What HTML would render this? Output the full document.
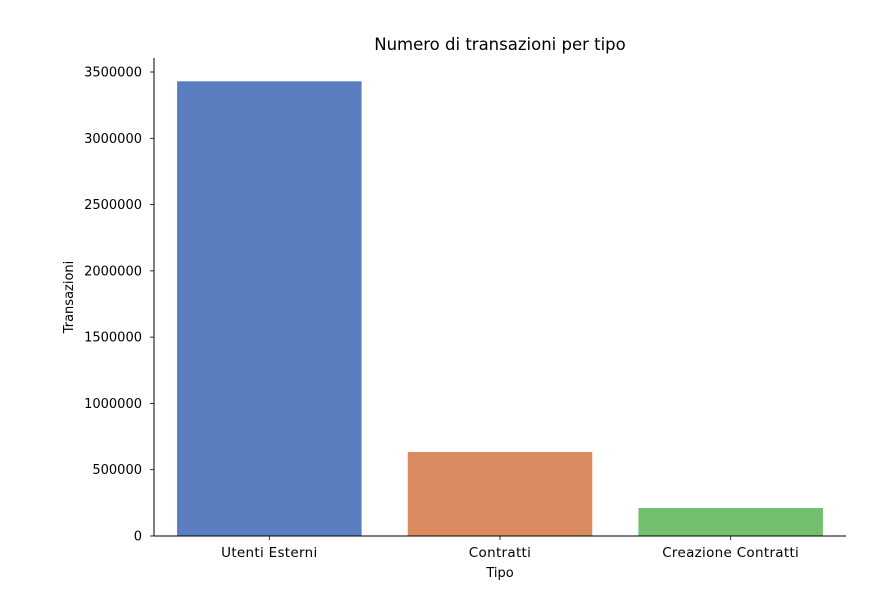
<!DOCTYPE html>
<html><head><meta charset="utf-8"><style>
body{margin:0;background:#fff;}
svg text{font-family:"DejaVu Sans","Liberation Sans",sans-serif;fill:#000;}
</style></head><body>
<svg width="873" height="594" xmlns="http://www.w3.org/2000/svg">
<g id="plot"></g>
</svg>
<script>
const categories=["Utenti Esterni","Contratti","Creazione Contratti"];
const values=[3430000,634000,211000];
const colors=["#5b7ec1","#d98b5f","#72bf6e"];
const yTicks=[0,500000,1000000,1500000,2000000,2500000,3000000,3500000];
const L=154,R=846,B=536,T=58;
const yScale=v=>B-v*(536-72)/3500000;
const band=(R-L)/categories.length;
const xScale=i=>L+band*i;
const g=document.getElementById('plot');
const NS="http://www.w3.org/2000/svg";
function mk(t,a){const e=document.createElementNS(NS,t);for(const k in a)e.setAttribute(k,a[k]);g.appendChild(e);return e;}
values.forEach((v,i)=>{
 const r=mk('rect',{x:xScale(i)+band*0.1,y:yScale(v),width:band*0.8,height:B-yScale(v),fill:colors[i]});
 
 
 mk('line',{x1:xScale(i)+band/2,x2:xScale(i)+band/2,y1:B,y2:B+4,stroke:'#000','stroke-width':0.8});
 const t=mk('text',{x:xScale(i)+band/2,y:B+21,'font-size':13.5,'letter-spacing':'0.3','text-anchor':'middle'});t.textContent=categories[i];
 
 
});
yTicks.forEach(v=>{
 const y=yScale(v);
 mk('line',{x1:L-4,x2:L,y1:y,y2:y,stroke:'#000','stroke-width':0.8});
 const t=mk('text',{x:L-12,y:y+4.5,'font-size':13,'text-anchor':'end'});t.textContent=v;
 
 
});
const ya=mk('line',{x1:L,x2:L,y1:T,y2:B,stroke:'#000','stroke-width':1});


const xa=mk('line',{x1:L,x2:R,y1:B,y2:B,stroke:'#000','stroke-width':1});


const tt=mk('text',{x:(L+R)/2,y:50,'font-size':16.5,'text-anchor':'middle'});tt.textContent="Numero di transazioni per tipo";


const xt=mk('text',{x:(L+R)/2,y:577,'font-size':13,'text-anchor':'middle'});xt.textContent="Tipo";


const yt=mk('text',{x:0,y:0,'font-size':13,'text-anchor':'middle',transform:'translate(73,297) rotate(-90)'});yt.textContent="Transazioni";


</script>
</body></html>
